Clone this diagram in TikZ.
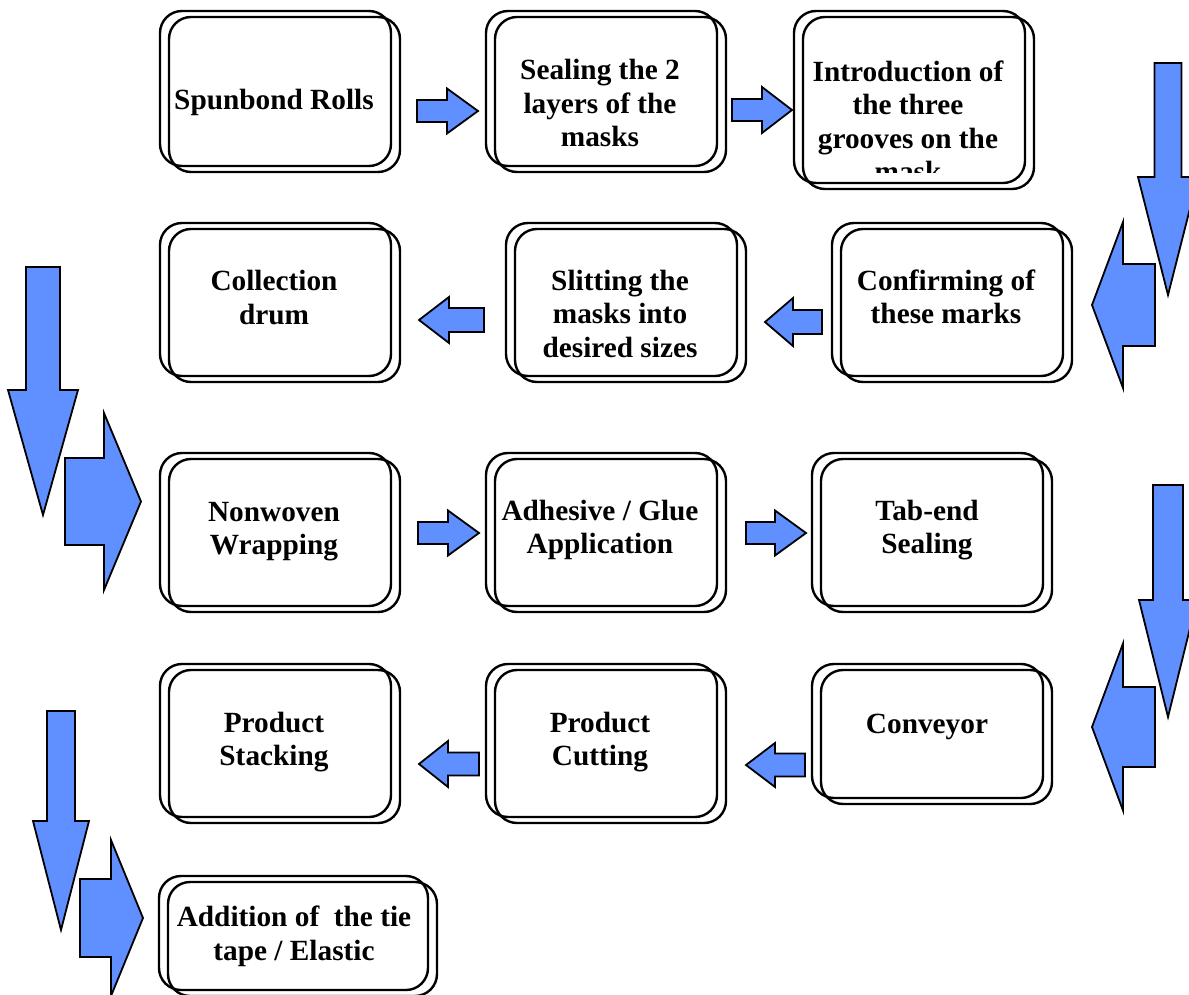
\documentclass[tikz,border=0pt]{standalone}
\usepackage{fontspec}
\setmainfont{Liberation Serif}
\definecolor{flowblue}{RGB}{96,143,255}

% block arrows: right/left take (shaft end, head base, tip or tip, head base, shaft end), centre y, half shaft, half head
\newcommand{\flowright}[6]{%
  \draw[blockarrow] (#1,#4-#5) -- (#2,#4-#5) -- (#2,#4-#6) -- (#3,#4)
    -- (#2,#4+#6) -- (#2,#4+#5) -- (#1,#4+#5) -- cycle;}
\newcommand{\flowleft}[6]{%
  \draw[blockarrow] (#1,#4) -- (#2,#4-#6) -- (#2,#4-#5) -- (#3,#4-#5)
    -- (#3,#4+#5) -- (#2,#4+#5) -- (#2,#4+#6) -- cycle;}
% down arrow: centre x, top, head base, tip, half shaft, half head
\newcommand{\flowdown}[6]{%
  \draw[blockarrow] (#1-#5,#2) -- (#1+#5,#2) -- (#1+#5,#3) -- (#1+#6,#3)
    -- (#1,#4) -- (#1-#6,#3) -- (#1-#5,#3) -- cycle;}

\begin{document}
\begin{tikzpicture}[x=1pt,y=-1pt,
  stage/.style={draw=black, line width=2.4pt, rounded corners=22pt,
    inner sep=0pt, minimum width=231pt, minimum height=153pt},
  % texts are placed by the baseline of their last line
  steptext/.style={align=center, inner sep=0pt, anchor=base,
    font=\fontsize{29.3}{33.5}\selectfont\bfseries},
  blockarrow/.style={draw=black, fill=flowblue, line width=1.8pt, line join=miter}]
\useasboundingbox (0,0) rectangle (1189,995);
\clip (0,0) rectangle (1189,995);

% ---- stage boxes: each is a pair of offset rounded frames ----
\node[stage, minimum height=155pt] (spun) at (275.5,88.5) {};
\node[stage, minimum height=155pt] (spun2) at ([shift={(9,6)}]spun.center) {};
\node[stage, minimum height=155pt] (seal) at (601.5,88.5) {};
\node[stage, minimum height=155pt] (seal2) at ([shift={(9,6)}]seal.center) {};
\node[stage, minimum height=172pt] (intro) at (909.5,97) {};
\node[stage, minimum height=172pt] (intro2) at ([shift={(9,6)}]intro.center) {};

\node[stage] (coll) at (275.5,299.5) {};
\node[stage] (coll2) at ([shift={(9,6)}]coll.center) {};
\node[stage] (slit) at (621.5,299.5) {};
\node[stage] (slit2) at ([shift={(9,6)}]slit.center) {};
\node[stage] (conf) at (947.5,299.5) {};
\node[stage] (conf2) at ([shift={(9,6)}]conf.center) {};

\node[stage] (nonw) at (275.5,529.5) {};
\node[stage] (nonw2) at ([shift={(9,6)}]nonw.center) {};
\node[stage] (adhe) at (601.5,529.5) {};
\node[stage] (adhe2) at ([shift={(9,6)}]adhe.center) {};
\node[stage] (tabe) at (927.5,529.5) {};
\node[stage] (tabe2) at ([shift={(9,6)}]tabe.center) {};

\node[stage] (stac) at (275.5,740.5) {};
\node[stage] (stac2) at ([shift={(9,6)}]stac.center) {};
\node[stage] (cutt) at (601.5,740.5) {};
\node[stage] (cutt2) at ([shift={(9,6)}]cutt.center) {};
\node[stage, minimum height=134pt] (conv) at (927.5,731) {};
\node[stage, minimum height=134pt] (conv2) at ([shift={(9,6)}]conv.center) {};

\node[stage, minimum width=269pt, minimum height=114pt] (addi) at (293.5,933) {};
\node[stage, minimum width=269pt, minimum height=114pt] (addi2) at ([shift={(9,6)}]addi.center) {};

% ---- stage texts ----
\node[steptext] (spunT) at (274,110) {Spunbond Rolls};
\node[steptext] (sealT) at (600,147) {Sealing the 2\\layers of the\\masks};
\begin{scope}
  \clip (794,11) rectangle (1034,173);
  \node[steptext] (introT) at (908,182) {Introduction of\\the three\\grooves on the\\mask};
\end{scope}
\node[steptext] (collT) at (274,324) {Collection\\drum};
\node[steptext] (slitT) at (620,357) {Slitting the\\masks into\\desired sizes};
\node[steptext] (confT) at (946,323.5) {Confirming of\\these marks};
\node[steptext] (nonwT) at (274,554.5) {Nonwoven\\Wrapping};
\node[steptext] (adheT) at (600,553.5) {Adhesive / Glue\\Application};
\node[steptext] (tabeT) at (927,553.5) {Tab-end\\Sealing};
\node[steptext] (stacT) at (274,765.5) {Product\\Stacking};
\node[steptext] (cuttT) at (600,765.5) {Product\\Cutting};
\node[steptext] (convT) at (927,733) {Conveyor};
\node[steptext] (addiT) at (294,960) {Addition of\ \ the tie\\tape / Elastic};

% ---- small arrows between stages ----
\flowright{417}{447}{478}{111}{11}{22.5}
\flowright{732}{762}{792}{110}{11}{23}
\flowleft{419}{449}{484}{320}{12}{23}
\flowleft{765}{793}{822}{322}{12}{24}
\flowright{418}{448}{479}{533}{11}{22.5}
\flowright{746}{775}{806}{533}{11}{22.5}
\flowleft{419}{448}{479}{764}{11.5}{23}
\flowleft{746}{775}{805}{765}{11.5}{22}

% ---- large turn arrows at the row ends ----
\flowdown{1168}{63}{177}{295}{13.5}{30}
\flowleft{1092}{1123}{1155}{305}{41}{83}
\flowdown{43}{267}{390}{515}{17}{35}
\flowright{65}{104}{141}{501.5}{43.5}{88.5}
\flowdown{1168}{485}{600}{717}{15}{29}
\flowleft{1092}{1123}{1155}{727}{40}{83.5}
\flowdown{61}{711}{821}{930}{14}{28}
\flowright{80}{111}{143}{918}{39}{78}
\end{tikzpicture}
\end{document}
